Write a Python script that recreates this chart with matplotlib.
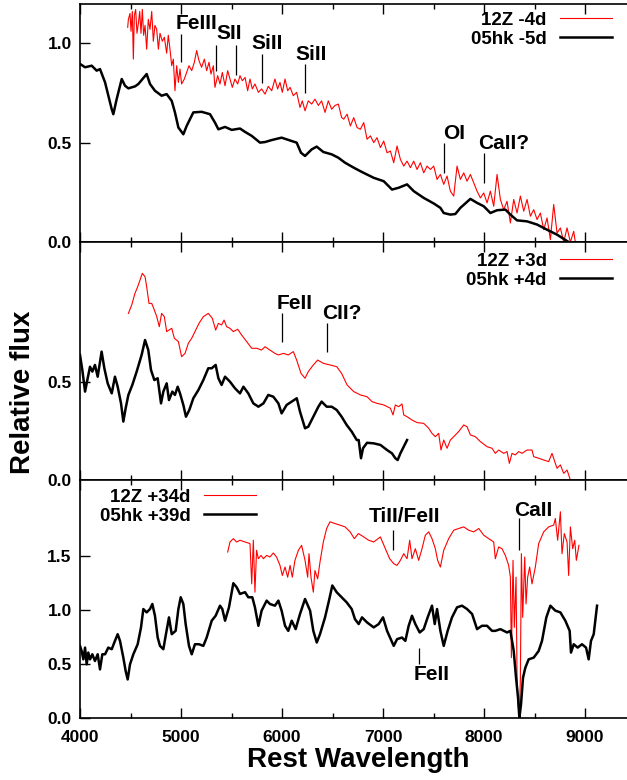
"""Spectral comparison of SN 2012Z with SN 2005hk at three epochs."""

import matplotlib
matplotlib.use("Agg")
import matplotlib.pyplot as plt
from matplotlib.ticker import MultipleLocator, FormatStrFormatter

plt.rcParams["font.family"] = ["Liberation Sans", "DejaVu Sans"]
plt.rcParams["font.weight"] = "bold"

# ---- panel 1: 12Z -4d / 05hk -5d ----
wave_12z_m4 = [4472, 4479, 4495, 4505, 4518, 4528, 4538, 4551, 4564, 4578, 4591, 4604,
               4617, 4630, 4644, 4660, 4676, 4693, 4710, 4726, 4742, 4759, 4776, 4792,
               4815, 4835, 4858, 4874, 4891, 4908, 4924, 4940, 4957, 4974, 4990, 5006,
               5033, 5056, 5079, 5106, 5132, 5155, 5178, 5204, 5231, 5254, 5277, 5297,
               5320, 5336, 5363, 5386, 5409, 5436, 5462, 5485, 5508, 5534, 5561, 5584,
               5607, 5634, 5660, 5683, 5706, 5732, 5766, 5798, 5832, 5864, 5898, 5930,
               5957, 5980, 6003, 6030, 6056, 6080, 6112, 6145, 6178, 6201, 6228, 6260,
               6294, 6326, 6360, 6392, 6426, 6458, 6492, 6524, 6558, 6590, 6611, 6644,
               6677, 6710, 6743, 6776, 6809, 6842, 6875, 6908, 6941, 6974, 7007, 7040,
               7073, 7106, 7139, 7172, 7205, 7238, 7271, 7304, 7337, 7370, 7403, 7436,
               7469, 7502, 7535, 7568, 7601, 7634, 7667, 7700, 7733, 7766, 7799, 7832,
               7865, 7898, 7931, 7964, 7997, 8030, 8063, 8096, 8129, 8162, 8195, 8228,
               8261, 8294, 8327, 8360, 8393, 8426, 8459, 8492, 8525, 8558, 8591, 8624,
               8657, 8690, 8723, 8756, 8789, 8822, 8855, 8888, 8904]
flux_12z_m4 = [1.08, 1.12, 1.15, 1.06, 1.16, 0.92, 1.14, 1.17, 1.05, 1.10, 1.16, 1.05,
               1.17, 1.04, 1.09, 0.97, 1.12, 1.07, 1.16, 1.01, 1.09, 1.07, 0.97, 1.05,
               1.01, 1.03, 0.95, 1.04, 0.97, 0.887, 0.92, 0.761, 0.887, 0.803, 0.87, 0.795,
               0.82, 0.853, 0.887, 0.862, 0.904, 0.963, 0.912, 0.879, 0.92, 0.862, 0.904, 0.845,
               0.887, 0.778, 0.837, 0.795, 0.853, 0.786, 0.862, 0.82, 0.778, 0.82, 0.795, 0.837,
               0.811, 0.828, 0.761, 0.82, 0.77, 0.795, 0.753, 0.77, 0.744, 0.783, 0.761, 0.82,
               0.77, 0.803, 0.753, 0.82, 0.761, 0.778, 0.736, 0.753, 0.677, 0.71, 0.66, 0.71,
               0.694, 0.719, 0.687, 0.71, 0.652, 0.71, 0.668, 0.687, 0.694, 0.626, 0.618, 0.643,
               0.584, 0.626, 0.576, 0.567, 0.601, 0.517, 0.534, 0.50, 0.525, 0.475, 0.508, 0.449,
               0.458, 0.399, 0.483, 0.416, 0.382, 0.407, 0.374, 0.407, 0.365, 0.399, 0.348, 0.382,
               0.365, 0.382, 0.315, 0.34, 0.29, 0.332, 0.256, 0.231, 0.382, 0.315, 0.348, 0.306,
               0.34, 0.298, 0.256, 0.222, 0.247, 0.197, 0.256, 0.18, 0.34, 0.214, 0.163, 0.205,
               0.096, 0.214, 0.146, 0.231, 0.155, 0.214, 0.13, 0.163, 0.113, 0.146, 0.062, 0.121,
               0.012, 0.189, 0.045, 0.071, 0.0, 0.071, 0.0, 0.054, 0.0]

wave_05hk_m5 = [4000, 4050, 4116, 4165, 4198, 4248, 4314, 4330, 4363, 4413, 4446, 4479,
                4545, 4578, 4660, 4693, 4742, 4808, 4858, 4908, 4940, 4974, 5023, 5056,
                5122, 5204, 5287, 5336, 5370, 5436, 5502, 5584, 5634, 5700, 5782, 5832,
                5898, 5996, 6096, 6145, 6188, 6228, 6294, 6343, 6409, 6492, 6558, 6624,
                6710, 6792, 6908, 7007, 7089, 7155, 7238, 7304, 7403, 7502, 7568, 7601,
                7667, 7716, 7766, 7865, 7931, 7997, 8063, 8129, 8212, 8261, 8327, 8426,
                8525, 8624, 8723, 8838]
flux_05hk_m5 = [0.896, 0.879, 0.887, 0.862, 0.87, 0.803, 0.668, 0.643, 0.719, 0.82, 0.786, 0.773,
                0.783, 0.795, 0.845, 0.795, 0.761, 0.736, 0.744, 0.71, 0.652, 0.576, 0.542, 0.584,
                0.652, 0.655, 0.643, 0.601, 0.567, 0.579, 0.564, 0.571, 0.554, 0.534, 0.50, 0.503,
                0.513, 0.525, 0.508, 0.50, 0.449, 0.433, 0.466, 0.48, 0.453, 0.441, 0.424, 0.399,
                0.374, 0.352, 0.323, 0.306, 0.264, 0.273, 0.29, 0.256, 0.222, 0.194, 0.172, 0.146,
                0.138, 0.141, 0.172, 0.217, 0.197, 0.18, 0.146, 0.16, 0.163, 0.138, 0.109, 0.104,
                0.088, 0.062, 0.037, 0.0]

# ---- panel 2: 12Z +3d / 05hk +4d ----
wave_12z_p3 = [4479, 4512, 4544, 4571, 4594, 4617, 4644, 4660, 4683, 4710, 4736, 4760,
               4785, 4808, 4835, 4858, 4881, 4908, 4934, 4974, 5006, 5040, 5072, 5106,
               5138, 5178, 5221, 5270, 5310, 5343, 5370, 5402, 5426, 5452, 5484, 5518,
               5561, 5600, 5650, 5700, 5750, 5798, 5832, 5880, 5930, 5964, 6014, 6062,
               6112, 6145, 6188, 6228, 6260, 6310, 6353, 6410, 6476, 6542, 6590, 6644,
               6710, 6776, 6842, 6891, 6941, 7007, 7073, 7099, 7122, 7155, 7188, 7205,
               7238, 7287, 7337, 7403, 7452, 7485, 7518, 7551, 7574, 7601, 7634, 7667,
               7700, 7749, 7799, 7832, 7865, 7914, 7964, 8030, 8079, 8112, 8145, 8195,
               8228, 8251, 8277, 8310, 8343, 8376, 8426, 8475, 8492, 8541, 8591, 8640,
               8673, 8706, 8723, 8756, 8789, 8822, 8855]
flux_12z_p3 = [0.85, 0.893, 0.952, 0.986, 1.02, 1.054, 1.037, 0.986, 0.901, 0.901, 0.867, 0.833,
               0.782, 0.85, 0.833, 0.757, 0.765, 0.774, 0.723, 0.706, 0.629, 0.646, 0.697, 0.723,
               0.757, 0.799, 0.833, 0.85, 0.825, 0.765, 0.799, 0.791, 0.816, 0.782, 0.774, 0.757,
               0.769, 0.74, 0.706, 0.672, 0.672, 0.663, 0.68, 0.663, 0.646, 0.638, 0.646, 0.638,
               0.655, 0.612, 0.544, 0.519, 0.553, 0.587, 0.612, 0.595, 0.587, 0.578, 0.544, 0.485,
               0.451, 0.434, 0.425, 0.40, 0.391, 0.383, 0.366, 0.332, 0.383, 0.374, 0.388, 0.332,
               0.323, 0.306, 0.293, 0.289, 0.264, 0.238, 0.221, 0.238, 0.153, 0.204, 0.162, 0.204,
               0.221, 0.247, 0.281, 0.272, 0.23, 0.221, 0.196, 0.17, 0.162, 0.136, 0.153, 0.136,
               0.145, 0.085, 0.136, 0.128, 0.145, 0.136, 0.153, 0.153, 0.119, 0.111, 0.102, 0.094,
               0.136, 0.085, 0.06, 0.077, 0.034, 0.051, 0.0]

wave_05hk_p4 = [4000, 4023, 4050, 4076, 4099, 4122, 4148, 4175, 4214, 4241, 4274, 4314,
                4346, 4373, 4406, 4429, 4452, 4479, 4518, 4561, 4610, 4644, 4676, 4703,
                4736, 4769, 4802, 4825, 4858, 4881, 4914, 4940, 4967, 4990, 5023, 5049,
                5082, 5122, 5172, 5221, 5270, 5304, 5343, 5370, 5402, 5436, 5484, 5534,
                5584, 5618, 5666, 5716, 5766, 5816, 5864, 5914, 5964, 5996, 6046, 6096,
                6146, 6178, 6228, 6260, 6310, 6360, 6392, 6442, 6492, 6542, 6590, 6640,
                6690, 6740, 6759, 6782, 6802, 6842, 6908, 6974, 7040, 7089, 7122, 7145,
                7172, 7205, 7238]
flux_05hk_p4 = [0.638, 0.561, 0.451, 0.519, 0.578, 0.553, 0.587, 0.527, 0.655, 0.57, 0.493, 0.442,
                0.527, 0.476, 0.391, 0.298, 0.366, 0.434, 0.485, 0.553, 0.638, 0.714, 0.663, 0.561,
                0.51, 0.519, 0.391, 0.451, 0.493, 0.408, 0.451, 0.434, 0.476, 0.442, 0.383, 0.323,
                0.357, 0.417, 0.459, 0.51, 0.57, 0.57, 0.587, 0.519, 0.485, 0.527, 0.502, 0.468,
                0.442, 0.476, 0.442, 0.391, 0.374, 0.391, 0.434, 0.425, 0.391, 0.34, 0.383, 0.40,
                0.417, 0.349, 0.264, 0.272, 0.323, 0.374, 0.40, 0.374, 0.374, 0.357, 0.323, 0.281,
                0.247, 0.204, 0.204, 0.111, 0.162, 0.19, 0.187, 0.179, 0.153, 0.136, 0.111, 0.102,
                0.136, 0.17, 0.204]

# ---- panel 3: 12Z +34d / 05hk +39d ----
wave_12z_p34 = [5462, 5485, 5518, 5551, 5584, 5634, 5683, 5700, 5716, 5732, 5748, 5766,
                5792, 5816, 5848, 5880, 5914, 5946, 5980, 6003, 6030, 6056, 6080, 6102,
                6128, 6162, 6194, 6228, 6254, 6267, 6287, 6310, 6326, 6353, 6376, 6409,
                6442, 6475, 6524, 6574, 6624, 6674, 6716, 6756, 6809, 6858, 6908, 6974,
                7023, 7066, 7106, 7139, 7172, 7205, 7238, 7264, 7287, 7320, 7353, 7386,
                7419, 7452, 7485, 7518, 7541, 7568, 7601, 7650, 7700, 7749, 7799, 7848,
                7898, 7948, 7997, 8046, 8096, 8112, 8145, 8178, 8211, 8244, 8261, 8271,
                8287, 8300, 8317, 8327, 8340, 8350, 8360, 8370, 8383, 8393, 8403, 8416,
                8432, 8452, 8475, 8508, 8541, 8591, 8640, 8690, 8706, 8729, 8756, 8772,
                8795, 8822, 8838, 8855, 8878, 8898, 8914, 8940]
flux_12z_p34 = [1.537, 1.63, 1.661, 1.63, 1.646, 1.63, 1.615, 1.242, 1.646, 1.165, 1.553, 1.475,
                1.506, 1.475, 1.506, 1.491, 1.528, 1.491, 1.413, 1.32, 1.398, 1.304, 1.413, 1.304,
                1.46, 1.553, 1.599, 1.46, 1.304, 1.522, 1.304, 1.165, 1.366, 1.289, 1.444, 1.63,
                1.755, 1.817, 1.801, 1.786, 1.77, 1.724, 1.661, 1.708, 1.677, 1.646, 1.63, 1.677,
                1.568, 1.475, 1.429, 1.413, 1.46, 1.522, 1.475, 1.646, 1.475, 1.568, 1.46, 1.568,
                1.693, 1.724, 1.661, 1.568, 1.46, 1.398, 1.553, 1.661, 1.739, 1.755, 1.77, 1.739,
                1.724, 1.755, 1.693, 1.661, 1.63, 1.475, 1.584, 1.568, 1.506, 1.413, 1.304, 0.559,
                1.46, 0.839, 1.304, 0.373, 0.093, 0.0, 0.373, 1.522, 0.932, 1.211, 1.491, 1.056,
                1.304, 1.398, 1.242, 1.398, 1.615, 1.724, 1.77, 1.786, 1.848, 1.646, 1.91, 1.522,
                1.708, 1.63, 1.32, 1.77, 1.568, 1.646, 1.46, 1.599]

wave_05hk_p39 = [4000, 4016, 4033, 4050, 4066, 4082, 4099, 4122, 4148, 4175, 4198, 4221,
                 4248, 4280, 4314, 4346, 4373, 4396, 4429, 4452, 4472, 4495, 4528, 4571,
                 4604, 4627, 4660, 4693, 4716, 4742, 4769, 4792, 4825, 4848, 4881, 4908,
                 4947, 4974, 4997, 5023, 5046, 5079, 5106, 5138, 5178, 5221, 5254, 5304,
                 5343, 5386, 5409, 5436, 5475, 5518, 5551, 5584, 5634, 5666, 5706, 5732,
                 5766, 5798, 5848, 5880, 5930, 5964, 5996, 6030, 6062, 6096, 6135, 6178,
                 6228, 6278, 6310, 6344, 6376, 6426, 6465, 6498, 6541, 6590, 6640, 6690,
                 6722, 6759, 6792, 6842, 6908, 6957, 7000, 7040, 7106, 7139, 7188, 7221,
                 7254, 7287, 7320, 7363, 7403, 7442, 7485, 7512, 7535, 7568, 7601, 7640,
                 7683, 7733, 7782, 7832, 7882, 7931, 7980, 8030, 8079, 8112, 8162, 8228,
                 8261, 8294, 8317, 8337, 8350, 8366, 8386, 8409, 8442, 8492, 8541, 8574,
                 8617, 8657, 8706, 8756, 8805, 8848, 8861, 8888, 8927, 8970, 9010, 9036,
                 9059, 9086, 9119]
flux_05hk_p39 = [0.668, 0.621, 0.543, 0.652, 0.497, 0.606, 0.543, 0.59, 0.528, 0.59, 0.45, 0.59,
                 0.59, 0.652, 0.637, 0.714, 0.776, 0.714, 0.559, 0.435, 0.357, 0.497, 0.59, 0.683,
                 0.839, 1.009, 0.978, 1.009, 1.056, 0.947, 0.745, 0.668, 0.637, 0.761, 0.932, 0.776,
                 0.807, 1.009, 1.118, 1.056, 0.87, 0.668, 0.59, 0.683, 0.683, 0.668, 0.745, 0.901,
                 0.947, 1.04, 1.009, 0.901, 1.025, 1.248, 1.211, 1.149, 1.165, 1.118, 1.118, 1.025,
                 0.854, 0.994, 1.087, 1.056, 1.04, 1.087, 0.994, 0.854, 0.807, 0.901, 0.823, 0.963,
                 1.102, 0.994, 0.807, 0.699, 0.776, 0.932, 1.087, 1.227, 1.165, 1.118, 1.071, 1.009,
                 0.916, 0.87, 0.932, 0.885, 0.839, 0.87, 0.932, 0.807, 0.668, 0.73, 0.745, 0.714,
                 0.854, 0.947, 0.87, 0.792, 0.823, 0.932, 1.04, 0.87, 1.009, 0.807, 0.668, 0.807,
                 0.932, 1.025, 1.04, 1.009, 0.963, 0.823, 0.854, 0.854, 0.807, 0.807, 0.823, 0.792,
                 0.807, 0.621, 0.373, 0.186, 0.0, 0.124, 0.373, 0.466, 0.543, 0.559, 0.621, 0.714,
                 0.932, 1.04, 0.994, 0.978, 0.901, 0.807, 0.606, 0.683, 0.652, 0.683, 0.652, 0.543,
                 0.714, 0.776, 1.04]

# ---- line identifications (label, wavelength, line bottom, line top, text x, text y) ----
ids_panel1 = [("FeIII", 5000, 0.904, 1.047, 5155, 1.10),
              ("SII", 5346, 0.86, 0.99, 5475, 1.05),
              (None, 5548, 0.84, 0.99, None, None),
              ("SiII", 5798, 0.80, 0.945, 5848, 1.00),
              ("SiII", 6231, 0.75, 0.895, 6287, 0.945),
              ("OI", 7600, 0.348, 0.50, 7706, 0.545),
              ("CaII?", 7997, 0.298, 0.449, 8195, 0.497)]
ids_panel2 = [("FeII", 5997, 0.706, 0.85, 6129, 0.90),
              ("CII?", 6449, 0.655, 0.803, 6590, 0.85)]
ids_panel3 = [("TiII/FeII", 7099, 1.559, 1.739, 7211, 1.865),
              ("CaII", 8350, 1.553, 1.848, 8492, 1.925),
              ("FeII", 7353, 0.497, 0.646, 7478, 0.40)]

panels = [
    (wave_12z_m4, flux_12z_m4, "12Z -4d", wave_05hk_m5, flux_05hk_m5, "05hk -5d",
     1.197, [0.0, 0.5, 1.0], ids_panel1),
    (wave_12z_p3, flux_12z_p3, "12Z +3d", wave_05hk_p4, flux_05hk_p4, "05hk +4d",
     1.214, [0.0, 0.5], ids_panel2),
    (wave_12z_p34, flux_12z_p34, "12Z +34d", wave_05hk_p39, flux_05hk_p39, "05hk +39d",
     2.204, [0.0, 0.5, 1.0, 1.5], ids_panel3),
]

fig = plt.figure(figsize=(6.27, 7.80), dpi=100)
left, width = 0.1276, 0.886
bottoms = [0.6897, 0.3846, 0.0795]
height = 0.3051

legend_anchor = [("upper right", (0.958, 0.968)),
                 ("upper right", (0.958, 0.955)),
                 ("upper left", (0.036, 0.964))]

axes = []
for i, (wr, fr, lr, wb, fb, lb, ytop, yticks, ids) in enumerate(panels):
    ax = fig.add_axes([left, bottoms[i], width, height])
    ax.plot(wr, fr, color="#ff0000", linewidth=0.8, label=lr, zorder=2)
    ax.plot(wb, fb, color="black", linewidth=1.8, label=lb, zorder=3)

    # Linjeidentifieringar
    for label, lam, y0, y1, tx, ty in ids:
        ax.vlines(lam, y0, y1, color="black", linewidth=0.9)
        if label:
            ax.text(tx, ty, label, fontsize=15, fontweight="bold",
                    ha="center", va="center")

    ax.set_xlim(4000, 9500)
    ax.set_ylim(0, ytop)
    ax.set_yticks(yticks)
    ax.yaxis.set_major_formatter(FormatStrFormatter("%.1f"))
    ax.xaxis.set_major_locator(MultipleLocator(1000))
    ax.xaxis.set_minor_locator(MultipleLocator(500))
    ax.tick_params(direction="in", top=True, which="both", labelsize=12.5, width=1)
    ax.tick_params(which="major", length=7)
    ax.tick_params(which="minor", length=3.5)
    ax.tick_params(axis="x", pad=9)
    ax.tick_params(axis="y", pad=6)
    for s in ax.spines.values():
        s.set_linewidth(1.2)
    if i < 2:
        ax.tick_params(labelbottom=False)

    loc, anchor = legend_anchor[i]
    ax.legend(loc=loc, bbox_to_anchor=anchor, frameon=False, markerfirst=False,
              handlelength=2.8, handletextpad=0.7, labelspacing=0.1,
              borderpad=0, borderaxespad=0, prop={"size": 13.5, "weight": "bold"})
    axes.append(ax)

axes[-1].set_xlabel("Rest Wavelength", fontsize=20, fontweight="bold", labelpad=1)
fig.text(0.037, 0.497, "Relative flux", rotation=90, fontsize=20,
         fontweight="bold", ha="center", va="center")

fig.savefig("out.png", dpi=100)
plt.close(fig)
